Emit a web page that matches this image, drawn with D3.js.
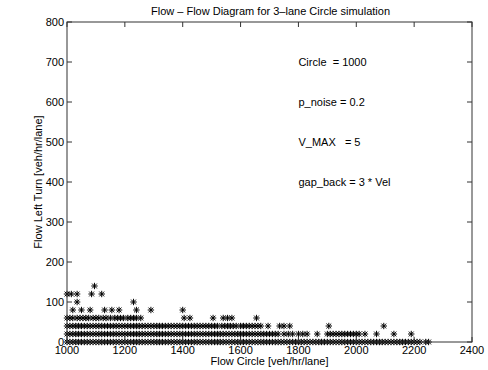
<!DOCTYPE html>
<html>
<head>
<meta charset="utf-8">
<script src="https://cdn.jsdelivr.net/npm/d3@7"></script>
<style>
  body { margin: 0; background: #fff; }
  svg { display: block; font-family: "Liberation Sans", Arial, sans-serif; }
</style>
</head>
<body>
<div id="chart"></div>
<script>
// --- data (x = Flow Circle, grouped by Flow Left Turn level) ---
const xTicks = [1000, 1200, 1400, 1600, 1800, 2000, 2200, 2400];
const yTicks = [0, 100, 200, 300, 400, 500, 600, 700, 800];

const turn0 = [
  1000,1010,1020,1030,1040,1050,1060,1070,1080,1090,
  1100,1110,1120,1130,1140,1150,1160,1170,1180,1190,
  1200,1210,1220,1230,1240,1250,1260,1270,1280,1290,
  1300,1310,1320,1330,1340,1350,1360,1370,1380,1390,
  1400,1410,1420,1430,1440,1450,1460,1470,1480,1490,
  1500,1510,1520,1530,1540,1550,1560,1570,1580,1590,
  1600,1610,1620,1630,1640,1650,1660,1670,1680,1690,
  1700,1710,1720,1730,1740,1750,1760,1770,1780,1790,
  1800,1810,1820,1830,1840,1850,1860,1870,1880,1890,
  1900,1910,1920,1930,1940,1950,1960,1970,1980,1990,
  2000,2010,2020,2030,2040,2050,2060,2070,2080,2090,
  2100,2110,2120,2130,2140,2150,2160,2170,2180,2190,
  2200,2210,2220,2240,2250
];
const turn20 = [
  1000,1010,1020,1030,1040,1050,1060,1070,1080,1090,
  1100,1110,1120,1130,1140,1150,1160,1170,1180,1190,
  1200,1210,1220,1230,1240,1250,1260,1270,1280,1290,
  1300,1310,1320,1330,1340,1350,1360,1370,1380,1390,
  1400,1410,1420,1430,1440,1450,1460,1470,1480,1490,
  1500,1510,1520,1530,1540,1550,1560,1570,1580,1590,
  1600,1610,1620,1630,1640,1650,1660,1670,1680,1690,
  1700,1710,1720,1730,1750,1765,1780,1800,1815,1830,
  1865,1900,1910,1920,1930,1940,1950,1960,1970,1980,
  1990,2000,2010,2030,2070,2130,2190
];
const turn40 = [
  1000,1010,1020,1030,1040,1050,1060,1070,1080,1090,
  1100,1110,1120,1130,1140,1150,1160,1170,1180,1190,
  1200,1210,1220,1230,1240,1250,1260,1270,1280,1290,
  1300,1310,1320,1330,1340,1350,1360,1370,1380,1390,
  1400,1410,1420,1430,1440,1450,1460,1470,1480,1490,
  1500,1510,1520,1535,1545,1555,1565,1575,1585,1600,
  1610,1620,1630,1640,1650,1660,1670,1695,1735,1750,
  1770,1905,2095
];
const turn60 = [
  1000,1010,1020,1035,1045,1055,1065,1075,1090,1100,
  1110,1125,1135,1150,1165,1175,1185,1195,1210,1220,
  1230,1240,1255,1405,1425,1505,1540,1555,1570,1655
];
const turn80 = [1020, 1050, 1080, 1130, 1155, 1180, 1240, 1290, 1400];
const turn100 = [1035, 1230];
const turn120 = [1000, 1015, 1035, 1085, 1120];
const turn140 = [1095];

const turnLevels = [0, 20, 40, 60, 80, 100, 120, 140];
const turnRows = [turn0, turn20, turn40, turn60, turn80, turn100, turn120, turn140];

const notes = [
  { x: 1800, y: 700, text: "Circle  = 1000" },
  { x: 1800, y: 600, text: "p_noise = 0.2" },
  { x: 1800, y: 500, text: "V_MAX   = 5" },
  { x: 1800, y: 400, text: "gap_back = 3 * Vel" }
];

// --- layout ---
const width = 488, height = 370;
const m = { left: 67, right: 16, top: 22, bottom: 28 };
const x = d3.scaleLinear().domain([1000, 2400]).range([m.left, width - m.right]);
const y = d3.scaleLinear().domain([0, 800]).range([height - m.bottom, m.top]);

const svg = d3.select("#chart").append("svg")
    .attr("width", width)
    .attr("height", height);

svg.append("rect").attr("width", width).attr("height", height).attr("fill", "#fff");

const points = [];
turnRows.forEach((row, i) => row.forEach(v => points.push({ x: v, y: turnLevels[i] })));

// MATLAB-style '*' marker
const star = "M-3.2,0H3.2M0,-3.2V3.2M-2.4,-2.4L2.4,2.4M-2.4,2.4L2.4,-2.4";
svg.append("g")
    .attr("fill", "none")
    .attr("stroke", "#000")
    .attr("stroke-width", 1)
  .selectAll("path")
  .data(points)
  .join("path")
    .attr("transform", d => `translate(${x(d.x)},${y(d.y)})`)
    .attr("d", star);

// axes box with inward ticks on all sides
const axisColor = "#333";
const tick = 5;
const ax = svg.append("g").attr("stroke", axisColor).attr("stroke-width", 1).attr("fill", "none");
ax.append("rect")
    .attr("x", x(1000)).attr("y", y(800))
    .attr("width", x(2400) - x(1000)).attr("height", y(0) - y(800));

xTicks.forEach(t => {
  ax.append("line").attr("x1", x(t)).attr("x2", x(t)).attr("y1", y(0)).attr("y2", y(0) - tick);
  ax.append("line").attr("x1", x(t)).attr("x2", x(t)).attr("y1", y(800)).attr("y2", y(800) + tick);
});
yTicks.forEach(t => {
  ax.append("line").attr("x1", x(1000)).attr("x2", x(1000) + tick).attr("y1", y(t)).attr("y2", y(t));
  ax.append("line").attr("x1", x(2400)).attr("x2", x(2400) - tick).attr("y1", y(t)).attr("y2", y(t));
});

svg.append("g").selectAll("text")
  .data(xTicks)
  .join("text")
    .attr("x", d => x(d))
    .attr("y", y(0) + 12)
    .attr("text-anchor", "middle")
    .attr("font-size", 11)
    .attr("fill", "#000")
    .text(d => d);

svg.append("g").selectAll("text")
  .data(yTicks)
  .join("text")
    .attr("x", x(1000) - 3)
    .attr("y", d => y(d) + 4)
    .attr("text-anchor", "end")
    .attr("font-size", 11)
    .attr("fill", "#000")
    .text(d => d);

// title and labels
svg.append("text")
    .attr("x", (x(1000) + x(2400)) / 2 + 1)
    .attr("y", 15)
    .attr("text-anchor", "middle")
    .attr("font-size", 11)
    .text("Flow \u2013 Flow Diagram for 3\u2013lane Circle simulation");

svg.append("text")
    .attr("x", (x(1000) + x(2400)) / 2)
    .attr("y", 365)
    .attr("text-anchor", "middle")
    .attr("font-size", 11)
    .text("Flow Circle [veh/hr/lane]");

svg.append("text")
    .attr("transform", `translate(42,${(y(0) + y(800)) / 2}) rotate(-90)`)
    .attr("text-anchor", "middle")
    .attr("font-size", 11)
    .text("Flow Left Turn [veh/hr/lane]");

svg.append("g").selectAll("text")
  .data(notes)
  .join("text")
    .attr("x", d => x(d.x))
    .attr("y", d => y(d.y) + 4)
    .attr("font-size", 11)
    .style("white-space", "pre")
    .text(d => d.text);
</script>
</body>
</html>
